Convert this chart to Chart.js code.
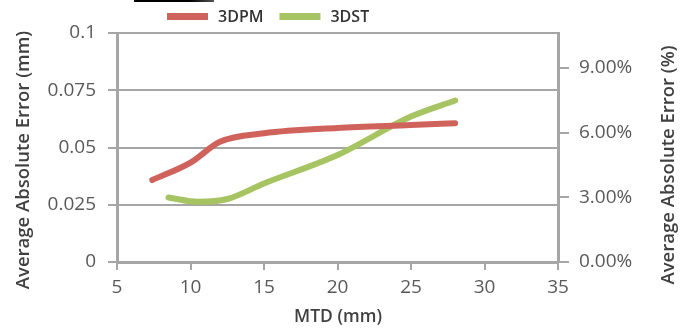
<!DOCTYPE html>
<html>
<head>
<meta charset="utf-8">
<script src="https://cdn.jsdelivr.net/npm/chart.js@4"></script>
<style>
html,body{margin:0;padding:0;background:#fff;}
#wrap{position:relative;width:689px;height:329px;}
#bar{position:absolute;left:134px;top:0;width:80px;height:2px;background:linear-gradient(to right,#000 70%,#555);}
</style>
</head>
<body>
<div id="wrap"><canvas id="c" width="689" height="329"></canvas><div id="bar"></div></div>
<script>
const seriesNames = ['3DPM', '3DST'];
const pmX = [7.4, 10, 12, 15, 20, 25, 28];
const pmY = [0.0358, 0.0434, 0.0525, 0.0562, 0.0585, 0.0598, 0.0606];
const stX = [8.5, 10.5, 12.5, 15, 20, 25, 28];
const stY = [0.0282, 0.0263, 0.0275, 0.0343, 0.0467, 0.0635, 0.0705];
const leftTicks = [0, 0.025, 0.05, 0.075, 0.1];
const rightTicks = [0, 3, 6, 9];
const xTicks = [5, 10, 15, 20, 25, 30, 35];
const titles = { x: 'MTD (mm)', y: 'Average Absolute Error (mm)', y2: 'Average Absolute Error (%)' };

const FONT = 'Open Sans';
const gridCol = '#a6a6a6';
const tickCol = '#595959';
const titleCol = '#404040';

const decor = {
  id: 'decor',
  afterDraw(chart) {
    const ctx = chart.ctx;
    const ca = chart.chartArea;
    ctx.save();
    // legend
    ctx.font = '600 16px "' + FONT + '"';
    ctx.textBaseline = 'middle';
    ctx.textAlign = 'left';
    let x = 167;
    const ly = 17;
    chart.data.datasets.forEach(ds => {
      ctx.fillStyle = ds.borderColor;
      ctx.fillRect(x, ly - 4, 41, 7);
      ctx.fillStyle = '#333';
      ctx.fillText(ds.label, x + 51, ly);
      x += 51 + ctx.measureText(ds.label).width + 16;
    });
    // titles
    ctx.fillStyle = titleCol;
    ctx.textAlign = 'center';
    ctx.font = '600 17.5px "' + FONT + '"';
    ctx.fillText(titles.x, 338, 317);
    ctx.font = '600 18.5px "' + FONT + '"';
    ctx.save();
    ctx.translate(24, 160);
    ctx.rotate(-Math.PI / 2);
    ctx.fillText(titles.y, 0, 0);
    ctx.restore();
    ctx.save();
    ctx.translate(669, 165);
    ctx.rotate(-Math.PI / 2);
    ctx.fillText(titles.y2, 0, 0);
    ctx.restore();
    ctx.restore();
  }
};

new Chart(document.getElementById('c'), {
  type: 'line',
  data: {
    datasets: [
      { label: seriesNames[0], data: pmX.map((x,i)=>({x, y: pmY[i]})), borderColor: '#d0625c', backgroundColor: '#d0625c', borderWidth: 6, pointRadius: 0, tension: 0.4, cubicInterpolationMode: 'monotone', borderCapStyle: 'round', yAxisID: 'y' },
      { label: seriesNames[1], data: stX.map((x,i)=>({x, y: stY[i]})), borderColor: '#a6c462', backgroundColor: '#a6c462', borderWidth: 6, pointRadius: 0, tension: 0.4, cubicInterpolationMode: 'monotone', borderCapStyle: 'round', yAxisID: 'y' }
    ]
  },
  plugins: [decor],
  options: {
    responsive: false,
    animation: false,
    layout: { padding: { top: 33, left: 0, right: 0, bottom: 0 } },
    plugins: {
      legend: { display: false },
      tooltip: { enabled: false }
    },
    scales: {
      x: {
        type: 'linear', min: 5, max: 35,
        afterBuildTicks: s => { s.ticks = xTicks.map(v => ({value: v})); },
        grid: { drawOnChartArea: false, drawTicks: true, tickLength: 8, color: gridCol, lineWidth: 2 },
        border: { color: gridCol, width: 3 },
        ticks: { color: tickCol, font: { family: FONT, size: 19 }, padding: 6, maxRotation: 0 },
        afterFit: s => { s.height = 67; }
      },
      y: {
        position: 'left', min: 0, max: 0.1,
        afterBuildTicks: s => { s.ticks = leftTicks.map(v => ({value: v})); },
        grid: { drawTicks: true, tickLength: 9, color: gridCol, lineWidth: 2 },
        border: { color: gridCol, width: 3 },
        ticks: { color: tickCol, font: { family: FONT, size: 19 }, padding: 12, callback: v => String(+v.toFixed(4)) },
        afterFit: s => { s.width = 117; }
      },
      y2: {
        position: 'right', min: 0, max: 10.62,
        afterBuildTicks: s => { s.ticks = rightTicks.map(v => ({value: v})); },
        grid: { drawOnChartArea: false, drawTicks: true, tickLength: 11, color: gridCol, lineWidth: 2 },
        border: { color: gridCol, width: 3 },
        ticks: { color: tickCol, font: { family: FONT, size: 19 }, padding: 10, callback: v => v.toFixed(2) + '%' },
        afterFit: s => { s.width = 131; }
      }
    }
  }
});
</script>
</body>
</html>
